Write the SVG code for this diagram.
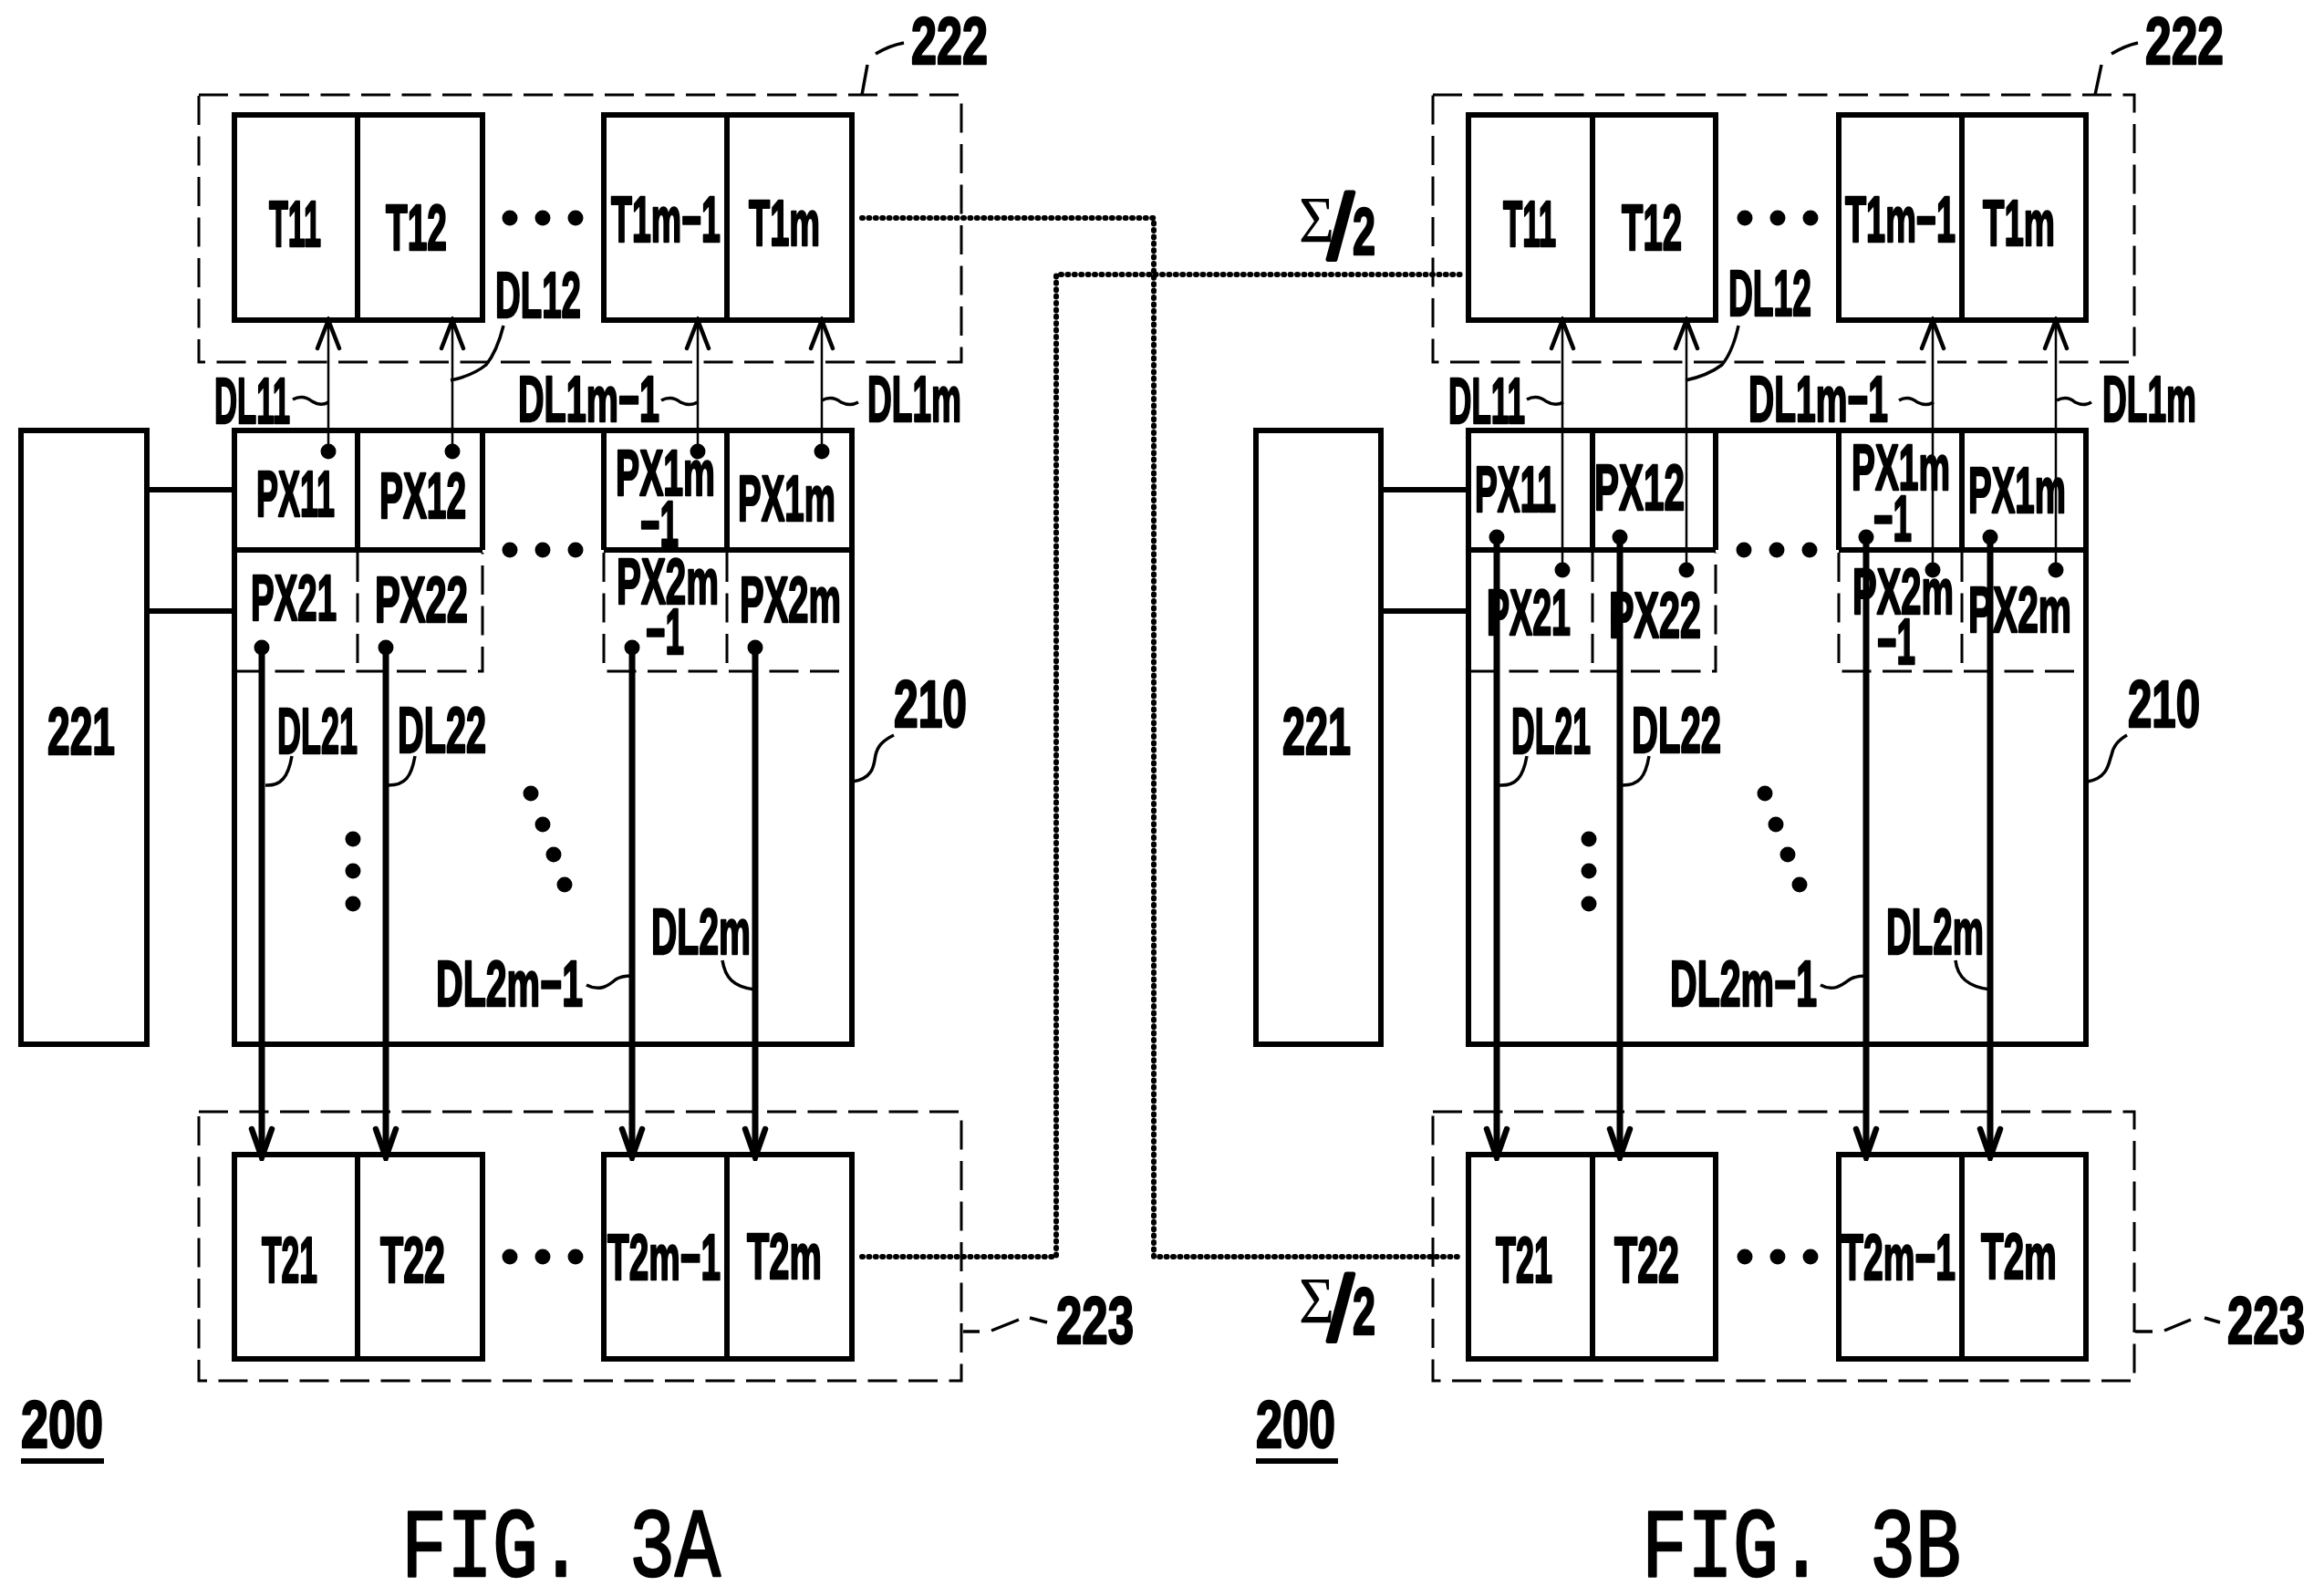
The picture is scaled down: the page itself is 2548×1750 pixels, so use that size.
<svg xmlns="http://www.w3.org/2000/svg" width="2548" height="1750" viewBox="0 0 2548 1750">
<style>
text{fill:#000;font-family:"Liberation Sans",Arial,sans-serif;font-weight:bold;font-size:70px;stroke:#000;stroke-width:2.5px;stroke-linejoin:round}
.fig{font-family:"Liberation Mono",monospace;font-weight:normal;font-size:108px;stroke-width:2.5px}
.sig{font-family:"Liberation Serif",serif;font-weight:normal;font-size:72px;stroke-width:0}
.slash{font-weight:normal;font-size:100px;stroke-width:5px}
.num{font-size:72px;stroke-width:2.5px}
.b{fill:#fff;stroke:#000;stroke-width:6;stroke-linejoin:miter}
.l{fill:none;stroke:#000;stroke-width:6}
.d{fill:none;stroke:#000;stroke-width:3;stroke-dasharray:32 12.5}
.ld{fill:none;stroke:#000;stroke-width:3.5}
.dot{fill:#000}
.dotted{fill:none;stroke:#000;stroke-width:6;stroke-linecap:round;stroke-dasharray:1 6.4}
.thin{fill:none;stroke:#000;stroke-width:2.5;marker-start:url(#dot);marker-end:url(#ot)}
.thick{fill:none;stroke:#000;stroke-width:7;marker-start:url(#dot);marker-end:url(#oT)}
</style>
<defs>
<marker id="dot" markerUnits="userSpaceOnUse" markerWidth="20" markerHeight="20" refX="10" refY="10" viewBox="0 0 20 20"><circle cx="10" cy="10" r="8.5" fill="#000"/></marker>
<marker id="ot" markerUnits="userSpaceOnUse" markerWidth="40" markerHeight="40" refX="36" refY="20" viewBox="0 0 40 40" orient="auto"><path d="M5,8 L36,20 L5,32" fill="none" stroke="#000" stroke-width="4.5" stroke-linecap="round"/></marker>
<marker id="oT" markerUnits="userSpaceOnUse" markerWidth="40" markerHeight="40" refX="36" refY="20" viewBox="0 0 40 40" orient="auto"><path d="M5,9 L36,20 L5,31" fill="none" stroke="#000" stroke-width="6.5" stroke-linecap="round"/></marker>
</defs>
<rect width="2548" height="1750" fill="#fff"/>

<g id="n-a-222">
<rect class="d" x="218" y="104" width="836" height="293"/>
<rect class="b" x="257" y="126" width="272" height="225"/><path class="l" d="M392,126V351"/>
<rect class="b" x="662" y="126" width="272" height="225"/><path class="l" d="M797,126V351"/>
<text x="295" y="270" textLength="57" lengthAdjust="spacingAndGlyphs">T11</text>
<text x="423" y="274" textLength="67" lengthAdjust="spacingAndGlyphs">T12</text>
<text x="670" y="265" textLength="120" lengthAdjust="spacingAndGlyphs">T1m−1</text>
<text x="821" y="269" textLength="78" lengthAdjust="spacingAndGlyphs">T1m</text>
<circle class="dot" cx="559" cy="239" r="8.5"/><circle class="dot" cx="595" cy="239" r="8.5"/><circle class="dot" cx="631" cy="239" r="8.5"/>
<text class="num" x="999" y="70" textLength="84" lengthAdjust="spacingAndGlyphs">222</text>
</g>
<g id="n-a-221">
<rect class="b" x="23" y="472" width="138" height="673"/>
<text class="num" x="52" y="827" textLength="74" lengthAdjust="spacingAndGlyphs">221</text>
</g>
<g id="n-a-210">
<rect class="b" x="257" y="472" width="677" height="673"/>
<path class="l" d="M392,472V603M529,472V603M662,472V603M797,472V603M257,603H529M662,603H934"/>
<path class="d" d="M257,736H529V606M662,606V736H934"/>
<path class="d" d="M392,606V736M797,606V736"/>
<text x="281" y="566" textLength="86" lengthAdjust="spacingAndGlyphs">PX11</text>
<text x="416" y="568" textLength="95" lengthAdjust="spacingAndGlyphs">PX12</text>
<text x="675" y="543" textLength="109" lengthAdjust="spacingAndGlyphs">PX1m</text>
<text x="702" y="599" textLength="42" lengthAdjust="spacingAndGlyphs">−1</text>
<text x="809" y="571" textLength="107" lengthAdjust="spacingAndGlyphs">PX1m</text>
<text x="275" y="680" textLength="94" lengthAdjust="spacingAndGlyphs">PX21</text>
<text x="411" y="682" textLength="102" lengthAdjust="spacingAndGlyphs">PX22</text>
<text x="676" y="662" textLength="112" lengthAdjust="spacingAndGlyphs">PX2m</text>
<text x="708" y="717" textLength="42" lengthAdjust="spacingAndGlyphs">−1</text>
<text x="811" y="682" textLength="111" lengthAdjust="spacingAndGlyphs">PX2m</text>
<circle class="dot" cx="559" cy="603" r="8.5"/><circle class="dot" cx="595" cy="603" r="8.5"/><circle class="dot" cx="631" cy="603" r="8.5"/>
<circle class="dot" cx="387" cy="920" r="8.5"/><circle class="dot" cx="387" cy="955" r="8.5"/><circle class="dot" cx="387" cy="991" r="8.5"/>
<circle class="dot" cx="582" cy="870" r="8.5"/><circle class="dot" cx="595" cy="904" r="8.5"/><circle class="dot" cx="607" cy="937" r="8.5"/><circle class="dot" cx="619" cy="970" r="8.5"/>
<text class="num" x="980" y="797" textLength="80" lengthAdjust="spacingAndGlyphs">210</text>
</g>
<g id="n-a-223">
<rect class="d" x="218" y="1219" width="836" height="295"/>
<rect class="b" x="257" y="1266" width="272" height="224"/><path class="l" d="M392,1266V1490"/>
<rect class="b" x="662" y="1266" width="272" height="224"/><path class="l" d="M797,1266V1490"/>
<text x="287" y="1406" textLength="61" lengthAdjust="spacingAndGlyphs">T21</text>
<text x="417" y="1406" textLength="71" lengthAdjust="spacingAndGlyphs">T22</text>
<text x="666" y="1403" textLength="124" lengthAdjust="spacingAndGlyphs">T2m−1</text>
<text x="819" y="1402" textLength="82" lengthAdjust="spacingAndGlyphs">T2m</text>
<circle class="dot" cx="559" cy="1378" r="8.5"/><circle class="dot" cx="595" cy="1378" r="8.5"/><circle class="dot" cx="631" cy="1378" r="8.5"/>
<text class="num" x="1158" y="1473" textLength="85" lengthAdjust="spacingAndGlyphs">223</text>
</g>
<g id="n-a-labels">
<text x="543" y="348" textLength="94" lengthAdjust="spacingAndGlyphs">DL12</text>
<text x="235" y="464" textLength="83" lengthAdjust="spacingAndGlyphs">DL11</text>
<text x="568" y="462" textLength="155" lengthAdjust="spacingAndGlyphs">DL1m−1</text>
<text x="951" y="462" textLength="103" lengthAdjust="spacingAndGlyphs">DL1m</text>
<text x="304" y="826" textLength="88" lengthAdjust="spacingAndGlyphs">DL21</text>
<text x="436" y="825" textLength="97" lengthAdjust="spacingAndGlyphs">DL22</text>
<text x="714" y="1046" textLength="109" lengthAdjust="spacingAndGlyphs">DL2m</text>
<text x="478" y="1103" textLength="161" lengthAdjust="spacingAndGlyphs">DL2m−1</text>
<text class="num" x="23" y="1587" textLength="90" lengthAdjust="spacingAndGlyphs">200</text>
<path class="l" d="M23,1602H114"/>
<text class="fig" x="440" y="1728" textLength="350" lengthAdjust="spacingAndGlyphs">FIG. 3A</text>
</g>

<g id="n-b-222">
<rect class="d" x="1571" y="104" width="769" height="293"/>
<rect class="b" x="1610" y="126" width="271" height="225"/><path class="l" d="M1746,126V351"/>
<rect class="b" x="2016" y="126" width="271" height="225"/><path class="l" d="M2151,126V351"/>
<text x="1648" y="270" textLength="58" lengthAdjust="spacingAndGlyphs">T11</text>
<text x="1778" y="274" textLength="66" lengthAdjust="spacingAndGlyphs">T12</text>
<text x="2023" y="265" textLength="121" lengthAdjust="spacingAndGlyphs">T1m−1</text>
<text x="2174" y="269" textLength="79" lengthAdjust="spacingAndGlyphs">T1m</text>
<circle class="dot" cx="1913" cy="239" r="8.5"/><circle class="dot" cx="1949" cy="239" r="8.5"/><circle class="dot" cx="1985" cy="239" r="8.5"/>
<text class="num" x="2352" y="70" textLength="86" lengthAdjust="spacingAndGlyphs">222</text>
</g>
<g id="n-b-221">
<rect class="b" x="1377" y="472" width="137" height="673"/>
<text class="num" x="1406" y="827" textLength="75" lengthAdjust="spacingAndGlyphs">221</text>
</g>
<g id="n-b-210">
<rect class="b" x="1610" y="472" width="677" height="673"/>
<path class="l" d="M1746,472V603M1881,472V603M2016,472V603M2151,472V603M1610,603H1881M2016,603H2287"/>
<path class="d" d="M1610,736H1881V606M2016,606V736H2287"/>
<path class="d" d="M1746,606V736M2151,606V736"/>
<text x="1617" y="561" textLength="89" lengthAdjust="spacingAndGlyphs">PX11</text>
<text x="1748" y="559" textLength="99" lengthAdjust="spacingAndGlyphs">PX12</text>
<text x="2030" y="537" textLength="108" lengthAdjust="spacingAndGlyphs">PX1m</text>
<text x="2054" y="593" textLength="42" lengthAdjust="spacingAndGlyphs">−1</text>
<text x="2158" y="562" textLength="107" lengthAdjust="spacingAndGlyphs">PX1m</text>
<text x="1630" y="696" textLength="92" lengthAdjust="spacingAndGlyphs">PX21</text>
<text x="1764" y="699" textLength="101" lengthAdjust="spacingAndGlyphs">PX22</text>
<text x="2031" y="673" textLength="111" lengthAdjust="spacingAndGlyphs">PX2m</text>
<text x="2058" y="728" textLength="42" lengthAdjust="spacingAndGlyphs">−1</text>
<text x="2158" y="693" textLength="113" lengthAdjust="spacingAndGlyphs">PX2m</text>
<circle class="dot" cx="1912" cy="603" r="8.5"/><circle class="dot" cx="1948" cy="603" r="8.5"/><circle class="dot" cx="1984" cy="603" r="8.5"/>
<circle class="dot" cx="1742" cy="920" r="8.5"/><circle class="dot" cx="1742" cy="955" r="8.5"/><circle class="dot" cx="1742" cy="991" r="8.5"/>
<circle class="dot" cx="1935" cy="870" r="8.5"/><circle class="dot" cx="1947" cy="904" r="8.5"/><circle class="dot" cx="1960" cy="937" r="8.5"/><circle class="dot" cx="1973" cy="970" r="8.5"/>
<text class="num" x="2333" y="797" textLength="79" lengthAdjust="spacingAndGlyphs">210</text>
</g>
<g id="n-b-223">
<rect class="d" x="1571" y="1219" width="769" height="295"/>
<rect class="b" x="1610" y="1266" width="271" height="224"/><path class="l" d="M1746,1266V1490"/>
<rect class="b" x="2016" y="1266" width="271" height="224"/><path class="l" d="M2151,1266V1490"/>
<text x="1640" y="1406" textLength="62" lengthAdjust="spacingAndGlyphs">T21</text>
<text x="1770" y="1406" textLength="71" lengthAdjust="spacingAndGlyphs">T22</text>
<text x="2019" y="1403" textLength="125" lengthAdjust="spacingAndGlyphs">T2m−1</text>
<text x="2172" y="1402" textLength="83" lengthAdjust="spacingAndGlyphs">T2m</text>
<circle class="dot" cx="1913" cy="1378" r="8.5"/><circle class="dot" cx="1949" cy="1378" r="8.5"/><circle class="dot" cx="1985" cy="1378" r="8.5"/>
<text class="num" x="2442" y="1473" textLength="85" lengthAdjust="spacingAndGlyphs">223</text>
</g>
<g id="n-b-labels">
<text x="1895" y="346" textLength="91" lengthAdjust="spacingAndGlyphs">DL12</text>
<text x="1588" y="464" textLength="84" lengthAdjust="spacingAndGlyphs">DL11</text>
<text x="1917" y="462" textLength="153" lengthAdjust="spacingAndGlyphs">DL1m−1</text>
<text x="2305" y="462" textLength="103" lengthAdjust="spacingAndGlyphs">DL1m</text>
<text x="1657" y="826" textLength="87" lengthAdjust="spacingAndGlyphs">DL21</text>
<text x="1789" y="825" textLength="98" lengthAdjust="spacingAndGlyphs">DL22</text>
<text x="2068" y="1046" textLength="107" lengthAdjust="spacingAndGlyphs">DL2m</text>
<text x="1831" y="1103" textLength="161" lengthAdjust="spacingAndGlyphs">DL2m−1</text>
<text class="sig" x="1424" y="265" textLength="39" lengthAdjust="spacingAndGlyphs">Σ</text>
<text class="slash" x="1456" y="284">/</text>
<text class="num" x="1483" y="279" textLength="25" lengthAdjust="spacingAndGlyphs">2</text>
<text class="sig" x="1424" y="1450" textLength="39" lengthAdjust="spacingAndGlyphs">Σ</text>
<text class="slash" x="1456" y="1470">/</text>
<text class="num" x="1483" y="1463" textLength="25" lengthAdjust="spacingAndGlyphs">2</text>
<text class="num" x="1377" y="1587" textLength="87" lengthAdjust="spacingAndGlyphs">200</text>
<path class="l" d="M1377,1602H1467"/>
<text class="fig" x="1800" y="1728" textLength="350" lengthAdjust="spacingAndGlyphs">FIG. 3B</text>
</g>

<g id="connectors">
<path class="l" d="M161,537H257M161,670H257M1514,537H1610M1514,670H1610"/>
<path class="thin" d="M360,495V351"/><path class="thin" d="M496,495V351"/><path class="thin" d="M765,495V351"/><path class="thin" d="M901,495V351"/>
<path class="thin" d="M1713,625V351"/><path class="thin" d="M1849,625V351"/><path class="thin" d="M2119,625V351"/><path class="thin" d="M2254,625V351"/>
<path class="thick" d="M287,710V1269"/><path class="thick" d="M423,710V1269"/><path class="thick" d="M693,710V1269"/><path class="thick" d="M828,710V1269"/>
<path class="thick" d="M1641,589V1269"/><path class="thick" d="M1776,589V1269"/><path class="thick" d="M2046,589V1269"/><path class="thick" d="M2182,589V1269"/>
<path class="dotted" d="M945,239H1265V1378H1604"/>
<path class="dotted" d="M945,1378H1158V301H1604"/>
<g class="ld">
<path d="M945,104L951,71M960,59Q975,50 991,47"/>
<path d="M552,357Q545,385 533,400Q518,412 494,417"/>
<path d="M321,438Q332,432 342,440Q352,446 360,441"/>
<path d="M725,439Q736,433 746,441Q756,446 765,441"/>
<path d="M901,439Q912,433 922,441Q932,446 941,441"/>
<path d="M935,857C960,853 958,835 960,828C962,818 968,812 980,806"/>
<path d="M291,861C308,862 316,852 320,829"/>
<path d="M426,861C444,861 451,852 455,829"/>
<path d="M643,1080C658,1088 668,1080 675,1074C681,1070 688,1070 693,1070"/>
<path d="M792,1053C795,1072 804,1082 827,1085"/>
<path d="M1056,1460H1074M1087,1459L1117,1447M1129,1445L1148,1450"/>
<path d="M2297,104L2304,71M2315,59Q2330,50 2344,47"/>
<path d="M1906,357Q1900,385 1888,400Q1872,412 1848,417"/>
<path d="M1674,438Q1685,432 1695,440Q1705,446 1714,441"/>
<path d="M2082,439Q2092,433 2102,441Q2112,446 2120,441"/>
<path d="M2255,439Q2266,433 2275,441Q2285,446 2293,441"/>
<path d="M2289,857C2312,853 2312,835 2315,828C2317,818 2322,812 2332,806"/>
<path d="M1644,861C1662,862 1670,852 1674,829"/>
<path d="M1779,861C1797,861 1804,852 1808,829"/>
<path d="M1996,1080C2010,1088 2020,1080 2028,1074C2034,1070 2041,1070 2046,1070"/>
<path d="M2144,1053C2146,1072 2158,1082 2182,1085"/>
<path d="M2341,1460H2360M2373,1459L2402,1447M2417,1445L2434,1450"/>
</g>
</g>
</svg>
